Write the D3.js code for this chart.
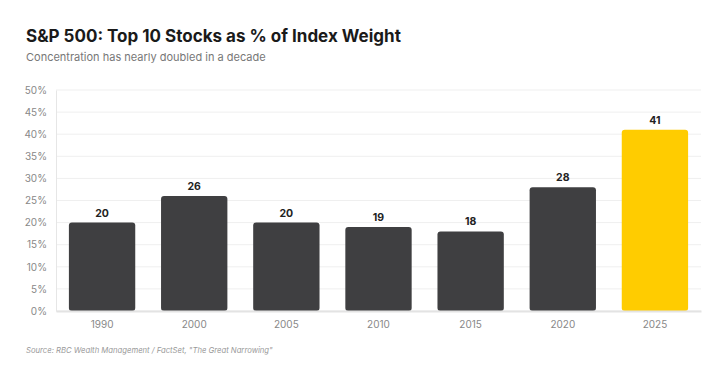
<!DOCTYPE html>
<html>
<head>
<meta charset="utf-8">
<script src="https://cdn.jsdelivr.net/npm/d3@7"></script>
<style>
  body { margin: 0; background: #fff; font-family: Inter, "Open Sans", sans-serif; }
</style>
</head>
<body>
<svg id="chart"></svg>
<script>
const years = ["1990", "2000", "2005", "2010", "2015", "2020", "2025"];
const shares = [20, 26, 20, 19, 18, 28, 41];
const yTicks = [0, 5, 10, 15, 20, 25, 30, 35, 40, 45, 50];

const width = 725, height = 379;
const margin = { top: 90, right: 24, bottom: 68, left: 56 };

const svg = d3.select("#chart").attr("width", width).attr("height", height);

svg.append("text")
    .attr("x", 26).attr("y", 42)
    .attr("font-size", 17).attr("font-weight", 700).attr("fill", "#1a1a1a")
    .text("S&P 500: Top 10 Stocks as % of Index Weight");

svg.append("text")
    .attr("x", 26).attr("y", 61)
    .attr("font-size", 11).attr("fill", "#777")
    .text("Concentration has nearly doubled in a decade");

const x = d3.scaleBand()
    .domain(years)
    .range([margin.left, width - margin.right])
    .paddingInner(0.28).paddingOuter(0.14);

const y = d3.scaleLinear().domain([0, 50]).range([height - margin.bottom, margin.top]);

// grid
svg.append("g").selectAll("line")
    .data(yTicks)
    .enter().append("line")
    .attr("x1", margin.left).attr("x2", width - margin.right)
    .attr("y1", d => y(d)).attr("y2", d => y(d))
    .attr("stroke", "#efefef");

const yAxis = svg.append("g")
    .attr("transform", `translate(${margin.left},0)`)
    .call(d3.axisLeft(y).tickValues(yTicks).tickFormat(d => d + "%").tickSize(0).tickPadding(9));
yAxis.select(".domain").attr("stroke", "#e6e6e6");
yAxis.selectAll("text").attr("font-size", 10).attr("fill", "#888").attr("font-family", "Inter, sans-serif");

const bars = svg.append("g").selectAll("rect")
    .data(years.map((d, i) => ({ year: d, value: shares[i] })))
    .enter();

bars.append("rect")
    .attr("x", d => x(d.year))
    .attr("y", d => y(d.value))
    .attr("width", x.bandwidth())
    .attr("height", d => y(0) - y(d.value))
    .attr("rx", 3)
    .attr("fill", d => d.year === "2025" ? "#ffcc00" : "#3f3f41");

bars.append("text")
    .attr("x", d => x(d.year) + x.bandwidth() / 2)
    .attr("y", d => y(d.value) - 6)
    .attr("text-anchor", "middle")
    .attr("font-size", 10.5).attr("font-weight", 700).attr("fill", "#222")
    .text(d => d.value);

const xAxis = svg.append("g")
    .attr("transform", `translate(0,${y(0)})`)
    .call(d3.axisBottom(x).tickSize(0).tickPadding(10));
xAxis.select(".domain").attr("stroke", "#e3e3e3").attr("stroke-width", 2);
xAxis.selectAll("text").attr("font-size", 10).attr("fill", "#888").attr("font-family", "Inter, sans-serif");

svg.append("text")
    .attr("x", 26).attr("y", 353)
    .attr("font-size", 7.7).attr("font-style", "italic").attr("fill", "#999")
    .text("Source: RBC Wealth Management / FactSet, \"The Great Narrowing\"");
</script>
</body>
</html>
